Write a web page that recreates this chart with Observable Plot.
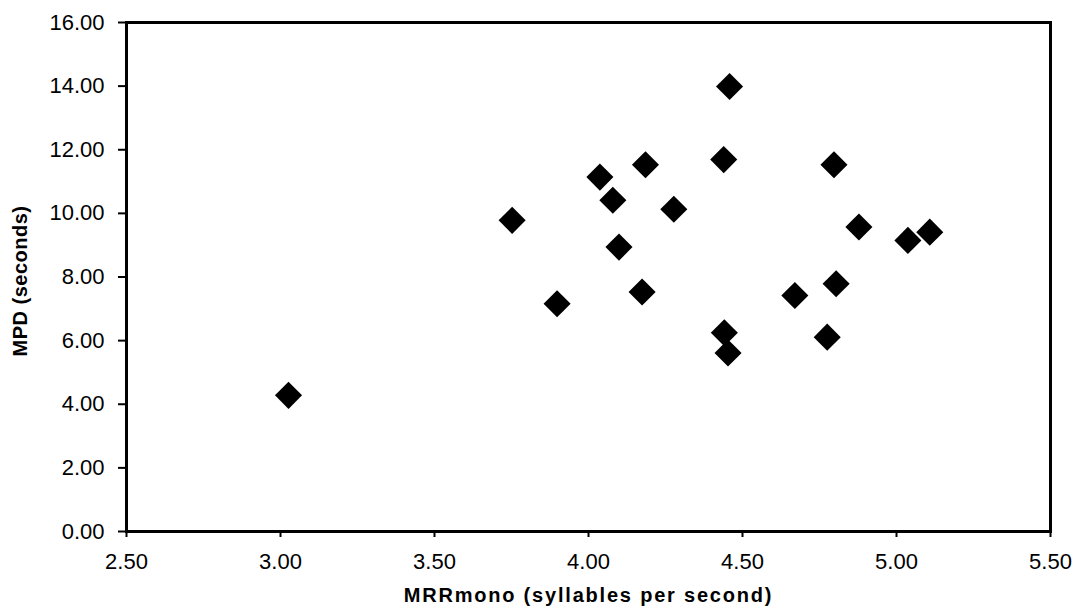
<!DOCTYPE html>
<html>
<head>
<meta charset="utf-8">
<script src="https://cdn.jsdelivr.net/npm/d3@7"></script>
<script src="https://cdn.jsdelivr.net/npm/@observablehq/plot@0.6"></script>
<style>
  html, body { margin: 0; padding: 0; background: #fff; }
  #chart { width: 1074px; height: 612px; }
  svg text { font-family: "Liberation Sans", Arial, sans-serif; }
</style>
</head>
<body>
<div id="chart"></div>
<script>
const mrrMono = [3.026, 3.752, 3.898, 4.037, 4.079, 4.099, 4.174, 4.185, 4.277, 4.439, 4.441, 4.453, 4.458, 4.670, 4.775, 4.797, 4.804, 4.878, 5.037, 5.108];
const mpdSeconds = [4.28, 9.78, 7.16, 11.14, 10.41, 8.94, 7.53, 11.53, 10.13, 11.69, 6.25, 5.61, 13.99, 7.42, 6.11, 11.53, 7.79, 9.57, 9.15, 9.41];
const xTicks = [2.5, 3.0, 3.5, 4.0, 4.5, 5.0, 5.5];
const yTicks = [0, 2, 4, 6, 8, 10, 12, 14, 16];
const xTitle = "MRRmono (syllables per second)";
const yTitle = "MPD (seconds)";

const data = mrrMono.map((x, i) => ({x, y: mpdSeconds[i]}));

const chart = Plot.plot({
  width: 1074,
  height: 612,
  marginLeft: 126,
  marginRight: 24,
  marginTop: 22,
  marginBottom: 81,
  style: {fontFamily: "Liberation Sans, Arial, sans-serif", fontSize: "22px", color: "#000", background: "#fff"},
  x: {domain: [2.5, 5.5]},
  y: {domain: [0, 16]},
  marks: [
    Plot.axisX({ticks: xTicks, tickFormat: d3.format(".2f"), tickSize: 6, tickPadding: 16, strokeWidth: 2, fontSize: 22, label: null}),
    Plot.axisY({ticks: yTicks, tickFormat: d3.format(".2f"), tickSize: 8, tickPadding: 14, strokeWidth: 2, fontSize: 22, label: null}),
    Plot.text([xTitle], {frameAnchor: "bottom", dy: 70, text: d => d, fontSize: 20, fontWeight: "bold", lineAnchor: "bottom"}),
    Plot.text([yTitle], {frameAnchor: "left", dx: -106, dy: 4, rotate: -90, textAnchor: "middle", text: d => d, fontSize: 20, fontWeight: "bold"}),
    Plot.frame({stroke: "#000", strokeWidth: 3}),
    Plot.dot(data, {x: "x", y: "y", symbol: "diamond2", r: 12.2, fill: "#000", stroke: "none"})
  ]
});
document.getElementById("chart").appendChild(chart);
chart.querySelectorAll("text").forEach(t => {
  if (t.textContent === xTitle) t.style.letterSpacing = "1.8px";
  if (t.textContent === yTitle) t.style.letterSpacing = "0.5px";
});
</script>
</body>
</html>
